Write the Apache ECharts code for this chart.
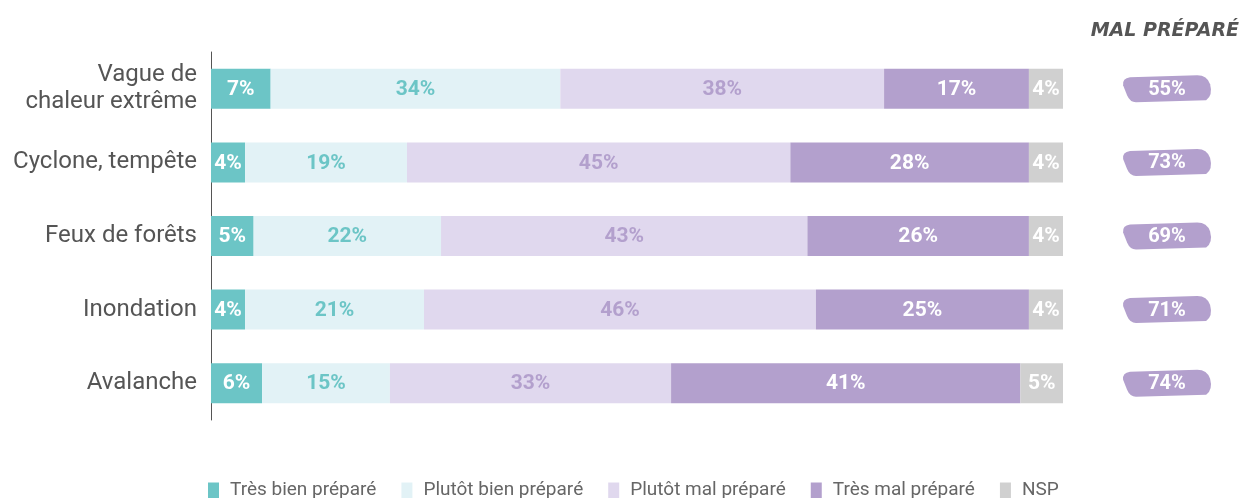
<!DOCTYPE html>
<html>
<head>
    <meta charset="utf-8">
    <script src="https://cdn.jsdelivr.net/npm/echarts@6/dist/echarts.min.js"></script>
    <style>
        html, body { margin: 0; padding: 0; background: #fff; }
        #chart { width: 1255px; height: 498px; }
    </style>
</head>
<body>
<div id="chart"></div>
<script>
    // categories, top to bottom
    var categories = ['Vague de\nchaleur extrême', 'Cyclone, tempête', 'Feux de forêts', 'Inondation', 'Avalanche'];
    var seriesNames = ['Très bien préparé', 'Plutôt bien préparé', 'Plutôt mal préparé', 'Très mal préparé', 'NSP'];
    var tresBien = [7, 4, 5, 4, 6];
    var plutotBien = [34, 19, 22, 21, 15];
    var plutotMal = [38, 45, 43, 46, 33];
    var tresMal = [17, 28, 26, 25, 41];
    var nsp = [4, 4, 4, 4, 5];
    var malPrepare = [55, 73, 69, 71, 74];

    var colors = ['#6cc5c6', '#e2f2f6', '#e0d8ee', '#b3a0cd', '#d0d0d0'];
    var labelColors = ['#fff', '#6cc5c6', '#b3a0cd', '#fff', '#fff'];
    var values = [tresBien, plutotBien, plutotMal, tresMal, nsp];

    var chart = echarts.init(document.getElementById('chart'));

    var series = seriesNames.map(function (name, i) {
        return {
            name: name,
            type: 'bar',
            stack: 'total',
            barWidth: 40,
            xAxisIndex: 0,
            yAxisIndex: 0,
            itemStyle: { color: colors[i] },
            label: {
                show: true,
                position: 'inside',
                formatter: '{c}%',
                color: labelColors[i],
                fontFamily: 'Roboto',
                fontWeight: 'bold',
                fontSize: 21,
                offset: [0, 1]
            },
            data: values[i]
        };
    });

    // pastilles "mal préparé" à droite
    series.push({
        type: 'scatter',
        xAxisIndex: 1,
        yAxisIndex: 1,
        symbol: 'path://M8,2 L76,0 Q86,0 89,9 Q92,20 85,25 L14,27 Q8,27 5,20 L1,10 Q0,3 8,2 Z',
        symbolSize: [88, 27],
        itemStyle: { color: '#b3a0cd', opacity: 1 },
        label: {
            show: true,
            position: 'inside',
            formatter: function (p) { return p.value[2] + '%'; },
            color: '#fff',
            fontFamily: 'Roboto',
            fontWeight: 'bold',
            fontSize: 20,
            offset: [0, 1]
        },
        silent: true,
        data: malPrepare.map(function (v, i) { return { value: [0.5, i, v] }; })
    });

    var option = {
        backgroundColor: '#fff',
        animation: false,
        title: {
            text: 'MAL PRÉPARÉ',
            right: 11,
            top: 17,
            textStyle: {
                fontFamily: 'DejaVu Sans',
                fontStyle: 'italic',
                fontWeight: 900,
                fontSize: 19,
                color: '#555'
            }
        },
        legend: {
            top: 476,
            left: 203,
            itemWidth: 11,
            itemHeight: 16,
            itemGap: 25,
            icon: 'rect',
            data: seriesNames,
            textStyle: {
                fontFamily: 'Roboto',
                fontSize: 19,
                color: '#666',
                padding: [0, 0, 0, 6]
            }
        },
        grid: [
            { left: 211, right: 192, top: 52, bottom: 78 },
            { left: 1122, width: 90, top: 52, bottom: 78 }
        ],
        xAxis: [
            { type: 'value', gridIndex: 0, min: 0, max: 100, show: false },
            { type: 'value', gridIndex: 1, min: 0, max: 1, show: false }
        ],
        yAxis: [
            {
                type: 'category',
                gridIndex: 0,
                inverse: true,
                data: categories,
                axisLine: { show: true, lineStyle: { color: '#555', width: 1 } },
                axisTick: { show: false },
                axisLabel: {
                    fontFamily: 'Roboto',
                    fontSize: 24,
                    color: '#555',
                    margin: 14,
                    lineHeight: 27
                }
            },
            {
                type: 'category',
                gridIndex: 1,
                inverse: true,
                data: categories,
                show: false
            }
        ],
        series: series
    };

    chart.setOption(option);
</script>
</body>
</html>
